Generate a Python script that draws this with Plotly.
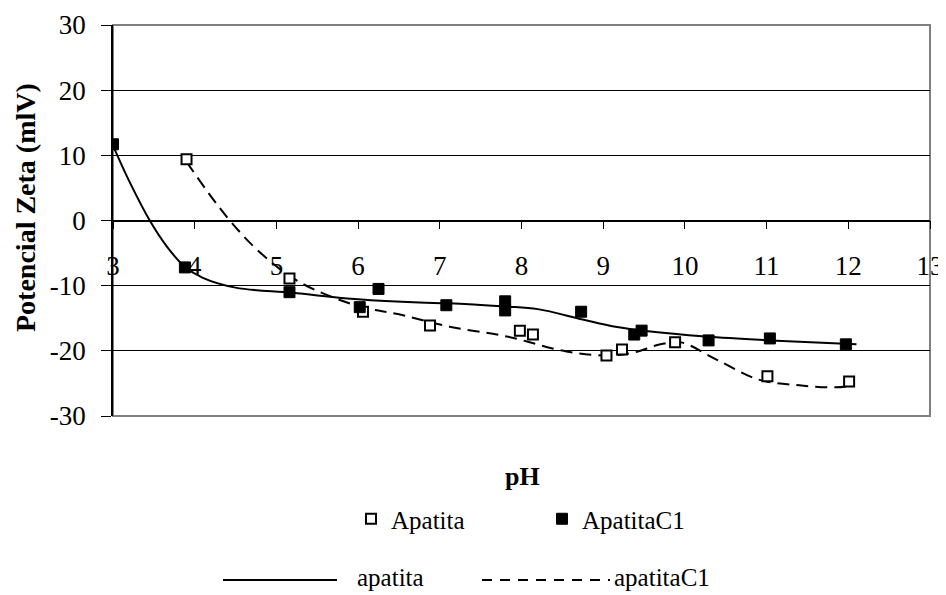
import plotly.graph_objects as go

# ---- data ----
ph_ticks = [3, 4, 5, 6, 7, 8, 9, 10, 11, 12, 13]
zeta_ticks = [-30, -20, -10, 0, 10, 20, 30]
zeta_tick_labels = ["-30", "-20", "-10", "0", "10", "20", "30"]

# open squares ("Apatita")
apatita_x = [3.9, 5.16, 6.06, 6.88, 7.98, 8.14, 9.04, 9.23, 9.88, 11.01, 12.01]
apatita_y = [9.4, -8.9, -14.0, -16.1, -16.9, -17.5, -20.7, -19.8, -18.7, -23.9, -24.7]

# filled squares ("ApatitaC1")
apatitac1_x = [3.0, 3.88, 5.16, 6.02, 6.25, 7.08, 7.8, 7.8, 8.73, 9.38, 9.47, 10.29, 11.04, 11.97]
apatitac1_y = [11.7, -7.2, -11.0, -13.3, -10.5, -13.0, -12.4, -13.8, -14.0, -17.5, -16.9, -18.4, -18.1, -19.0]

# solid trend curve ("apatita")
curve_solid_x = [3.0, 3.2, 3.45, 3.66, 3.87, 4.1, 4.5, 5.2, 6.0, 6.75, 7.1, 7.8, 8.2, 8.75, 9.15, 9.55, 10.25, 11.05, 12.1]
curve_solid_y = [11.5, 6.0, 0.0, -4.0, -7.0, -8.8, -10.3, -11.1, -12.1, -12.6, -12.7, -13.2, -13.6, -15.2, -16.3, -17.0, -17.8, -18.4, -19.0]

# dashed trend curve ("apatitaC1")
curve_dash_x = [3.9, 4.39, 4.8, 5.29, 6.02, 6.5, 7.12, 7.82, 8.55, 9.04, 9.36, 9.7, 9.95, 10.38, 10.9, 11.4, 11.85, 12.05]
curve_dash_y = [9.0, 0.6, -4.9, -9.5, -13.2, -14.4, -16.3, -17.8, -20.1, -20.7, -20.3, -19.0, -18.7, -21.3, -24.4, -25.3, -25.6, -25.3]

FONT = "'Liberation Serif', 'Times New Roman', 'DejaVu Serif', serif"
DASH = "12px,7px"

fig = go.Figure()

fig.add_trace(go.Scatter(
    x=curve_solid_x, y=curve_solid_y, mode="lines", name="apatita",
    line=dict(color="black", width=2, shape="spline", smoothing=1.0),
    showlegend=False))
fig.add_trace(go.Scatter(
    x=curve_dash_x, y=curve_dash_y, mode="lines", name="apatitaC1",
    line=dict(color="black", width=2, dash=DASH, shape="spline", smoothing=1.0),
    showlegend=False))
fig.add_trace(go.Scatter(
    x=apatita_x, y=apatita_y, mode="markers", name="Apatita",
    marker=dict(symbol="square", size=10, color="white",
                line=dict(color="black", width=2))))
fig.add_trace(go.Scatter(
    x=apatitac1_x, y=apatitac1_y, mode="markers", name="ApatitaC1",
    marker=dict(symbol="square", size=11, color="black",
                line=dict(color="black", width=1))))

# The page body adds an 8px margin; work in window pixels and shift.
OFF = 8
FIG_W, FIG_H = 946 - OFF, 595 - OFF
L, R, T, B = 113, 930, 25, 416          # plot area in window px
W, H = R - L, B - T
def px_x(p):
    return (p - L) / W
def px_y(p):
    return (B - p) / H

shapes = [
    dict(type="rect", xref="paper", yref="paper", x0=0, x1=1, y0=0, y1=1,
         line=dict(color="#808080", width=2), layer="below"),
    # line legend row
    dict(type="line", xref="paper", yref="paper", x0=px_x(223), x1=px_x(337),
         y0=px_y(580), y1=px_y(580), line=dict(color="black", width=2)),
    dict(type="line", xref="paper", yref="paper", x0=px_x(482), x1=px_x(610),
         y0=px_y(580), y1=px_y(580), line=dict(color="black", width=2, dash="10px,8px")),
]

annotations = [
    dict(text="<b>Potencial Zeta (mlV)</b>", xref="paper", yref="paper",
         x=px_x(26), y=px_y(208), xanchor="center", yanchor="middle",
         textangle=-90, showarrow=False,
         font=dict(family=FONT, size=28, color="black")),
    dict(text="<b>pH</b>", xref="paper", yref="paper", x=px_x(522), y=px_y(476),
         xanchor="center", yanchor="middle", showarrow=False,
         font=dict(family=FONT, size=26, color="black")),
    dict(text="apatita", xref="paper", yref="paper", x=px_x(355), y=px_y(577),
         xanchor="left", yanchor="middle", showarrow=False,
         font=dict(family=FONT, size=25, color="black")),
    dict(text="apatitaC1", xref="paper", yref="paper", x=px_x(612), y=px_y(577),
         xanchor="left", yanchor="middle", showarrow=False,
         font=dict(family=FONT, size=25, color="black")),
]

fig.update_layout(
    width=FIG_W, height=FIG_H,
    margin=dict(l=L - OFF, r=(FIG_W + OFF) - R, t=T - OFF, b=(FIG_H + OFF) - B, autoexpand=False),
    paper_bgcolor="white", plot_bgcolor="white",
    font=dict(family=FONT, color="black"),
    shapes=shapes, annotations=annotations,
    legend=dict(orientation="h", x=px_x(351), y=px_y(519), xanchor="left", yanchor="middle",
                font=dict(family=FONT, size=25, color="black"),
                entrywidth=146, bgcolor="rgba(0,0,0,0)", tracegroupgap=0),
    xaxis=dict(range=[3, 13], tickvals=ph_ticks, anchor="free", position=0.5,
               showline=True, linecolor="black", linewidth=1.5,
               ticks="outside", ticklen=8, tickcolor="black", tickwidth=1,
               ticklabelstandoff=13, ticklabeloverflow="allow",
               showgrid=False, zeroline=False,
               tickfont=dict(family=FONT, size=27, color="black")),
    yaxis=dict(range=[-30, 30], tickvals=zeta_ticks, ticktext=zeta_tick_labels,
               showline=True, linecolor="black",
               linewidth=1.5, ticks="outside", ticklen=10, tickcolor="black",
               ticklabelstandoff=10,
               showgrid=True, gridcolor="black", gridwidth=1, zeroline=False,
               tickfont=dict(family=FONT, size=27, color="black")),
)

fig.write_html("out.html")
